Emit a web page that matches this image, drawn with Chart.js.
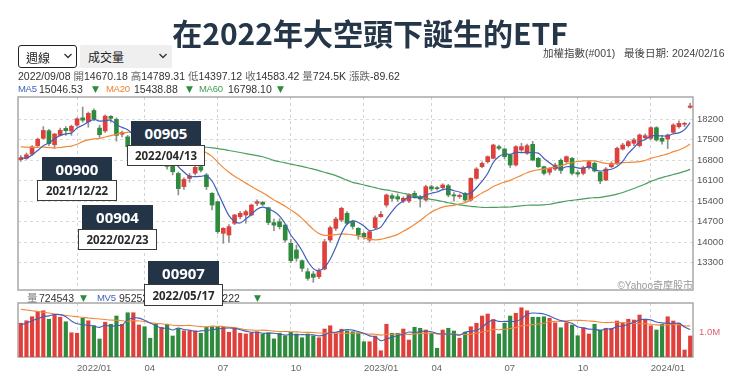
<!DOCTYPE html>
<html><head><meta charset="utf-8">
<script src="https://cdn.jsdelivr.net/npm/chart.js@4.4.1/dist/chart.umd.min.js"></script>
<style>
html,body{margin:0;padding:0;background:#fff;}
#wrap{position:relative;width:740px;height:389px;overflow:hidden;font-family:"Liberation Sans",Arial,"Noto Sans CJK TC",sans-serif;}
canvas{position:absolute;left:0;top:0;}
.abs{position:absolute;white-space:nowrap;}
#title{left:0;width:740px;top:17px;text-align:center;font:bold 30px/30px "Noto Sans CJK TC","Noto Sans",sans-serif;color:#253648;}
.sel{position:absolute;top:45px;height:23px;box-sizing:border-box;font:12px/23px "Noto Sans CJK TC",sans-serif;color:#222;}
.info{font-size:10.5px;line-height:12px;color:#333;}
.ma{font-size:9.5px;letter-spacing:-0.3px;}
.lbl{color:#666;}
.dn{color:#2e8b3e;font-size:9px;font-family:"DejaVu Sans",sans-serif;}
.tagd{position:absolute;background:#243447;color:#fff;font:bold 15px "Noto Sans",sans-serif;display:flex;align-items:center;justify-content:center;}
.tagw{position:absolute;background:#fff;border:1.5px solid #3a3a3a;box-sizing:border-box;color:#2a2a2a;font:bold 11.5px "Noto Sans",sans-serif;display:flex;align-items:center;justify-content:center;}
</style></head>
<body><div id="wrap">
<canvas id="main" width="740" height="389"></canvas>
<canvas id="vol" width="740" height="389"></canvas>

<div id="title" class="abs">在2022年大空頭下誕生的ETF</div>

<div class="sel" style="left:18px;width:59px;border:1.5px solid #222;border-radius:3px;padding-left:7px;">週線
<svg style="position:absolute;left:45px;top:7px" width="8" height="6"><polyline points="0.5,1 4,4.5 7.5,1" fill="none" stroke="#333" stroke-width="1.3"/></svg></div>
<div class="sel" style="left:80px;width:92px;background:#efefef;border-radius:2px;padding-left:8px;">成交量
<svg style="position:absolute;left:79px;top:8px" width="8" height="6"><polyline points="0.5,1 4,4.5 7.5,1" fill="none" stroke="#333" stroke-width="1.3"/></svg></div>

<div class="abs info" style="left:543px;top:47px;color:#444;">加權指數(#001)&nbsp;&nbsp;&nbsp;最後日期: 2024/02/16</div>

<div class="abs info" style="left:18px;top:70px;">2022/09/08 <span class="lbl">開</span>14670.18 <span class="lbl">高</span>14789.31 <span class="lbl">低</span>14397.12 <span class="lbl">收</span>14583.42 <span class="lbl">量</span>724.5K <span class="lbl">漲跌</span>-89.62</div>

<div class="abs info ma" style="left:18px;top:83px;color:#3f5fb8;">MA5</div>
<div class="abs info" style="left:39px;top:83px;">15046.53</div>
<div class="abs info dn" style="left:92px;top:83px;">▼</div>
<div class="abs info ma" style="left:106px;top:83px;color:#f08030;">MA20</div>
<div class="abs info" style="left:134px;top:83px;">15438.88</div>
<div class="abs info dn" style="left:186px;top:83px;">▼</div>
<div class="abs info ma" style="left:199px;top:83px;color:#3e9a52;">MA60</div>
<div class="abs info" style="left:228px;top:83px;">16798.10</div>
<div class="abs info dn" style="left:277px;top:83px;">▼</div>

<div class="abs info" style="right:47px;top:280px;color:#9a9a9a;font-size:10px;">©Yahoo奇摩股市</div>

<div class="abs info" style="left:27px;top:292px;color:#777;">量</div>
<div class="abs info" style="left:39px;top:292px;">724543</div>
<div class="abs info dn" style="left:80px;top:292px;">▼</div>
<div class="abs info ma" style="left:97px;top:292px;color:#3f5fb8;">MV5</div>
<div class="abs info" style="left:119px;top:292px;">952521</div>
<div class="abs info dn" style="left:158px;top:292px;">▼</div>
<div class="abs info ma" style="left:172px;top:292px;color:#f08030;">MV20</div>
<div class="abs info" style="left:199px;top:292px;">1078222</div>
<div class="abs info dn" style="left:254px;top:292px;">▼</div>

<div class="tagd" style="left:131px;top:121px;width:70px;height:24px;">00905</div>
<div class="tagw" style="left:127px;top:145px;width:78px;height:21px;">2022/04/13</div>
<div class="tagd" style="left:42px;top:157px;width:70px;height:23px;">00900</div>
<div class="tagw" style="left:37px;top:180px;width:80px;height:21px;">2021/12/22</div>
<div class="tagd" style="left:82px;top:205px;width:71px;height:24px;">00904</div>
<div class="tagw" style="left:78px;top:229px;width:79px;height:21px;">2022/02/23</div>
<div class="tagd" style="left:148px;top:261px;width:71px;height:24px;">00907</div>
<div class="tagw" style="left:144px;top:284px;width:79px;height:22px;">2022/05/17</div>
</div>
<script>
const weekDates = ['2021/10/22','2021/10/29','2021/11/05','2021/11/12','2021/11/19','2021/11/26','2021/12/03','2021/12/10','2021/12/17','2021/12/24','2021/12/30',
'2022/01/07','2022/01/14','2022/01/21','2022/01/26','2022/02/11','2022/02/18','2022/02/25','2022/03/04','2022/03/11','2022/03/18','2022/03/25','2022/04/01','2022/04/08','2022/04/15','2022/04/22','2022/04/29','2022/05/06','2022/05/13','2022/05/20','2022/05/27','2022/06/02','2022/06/10','2022/06/17','2022/06/24','2022/07/01','2022/07/08','2022/07/15','2022/07/22','2022/07/29','2022/08/05','2022/08/12','2022/08/19','2022/08/26','2022/09/02','2022/09/08','2022/09/16','2022/09/23','2022/09/30','2022/10/07','2022/10/14','2022/10/21','2022/10/28','2022/11/04','2022/11/11','2022/11/18','2022/11/25','2022/12/02','2022/12/09','2022/12/16','2022/12/23','2022/12/30',
'2023/01/06','2023/01/13','2023/01/17','2023/02/03','2023/02/10','2023/02/17','2023/02/24','2023/03/03','2023/03/10','2023/03/17','2023/03/24','2023/03/31','2023/04/07','2023/04/14','2023/04/21','2023/04/28','2023/05/05','2023/05/12','2023/05/19','2023/05/26','2023/06/02','2023/06/09','2023/06/16','2023/06/21','2023/06/30','2023/07/07','2023/07/14','2023/07/21','2023/07/28','2023/08/04','2023/08/11','2023/08/18','2023/08/25','2023/09/01','2023/09/08','2023/09/15','2023/09/22','2023/09/28','2023/10/06','2023/10/13','2023/10/20','2023/10/27','2023/11/03','2023/11/10','2023/11/17','2023/11/24','2023/12/01','2023/12/08','2023/12/15','2023/12/22','2023/12/29',
'2024/01/05','2024/01/12','2024/01/19','2024/01/26','2024/02/02','2024/02/05','2024/02/16'];

const openP = [16820,16870,17010,17300,17550,17810,17330,17650,17890,17800,18000,18250,18120,18500,17900,17800,18300,18200,17690,17600,
17200,17450,17780,17600,17350,16950,17000,16600,16350,15900,16180,16360,16581,16300,15670,15385,14303,14246,14645,14873,
14930,14930,15328,15362,15180,14670.18,14700,14588,13961,13734,13369,12993,12914,12822,13084,14075,14474,14759,14987,14700,
14474,14303,14075,14497,14873,15271,15590,15556,15408,15408,15670,15556,15442,15898,15850,15864,15932,15620,15560,15670,
15442,16182,16581,16752,16866,17265,17185,16980,16638,17151,17037,17344,16866,16581,16387,16501,16800,16752,16866,16380,
16353,16547,16695,16387,16125,16581,16695,17185,17299,17379,17299,17572,17549,17914,17550,17527,17755,17948,18028,18609];
const highP = [16960,17050,17300,17560,17950,17860,17720,17900,17950,18000,18250,18619,18450,18560,18000,18350,18330,18250,17800,17650,
17500,17700,17830,17650,17400,17200,17050,16700,16400,16200,16350,16650,16650,16350,15700,15400,14500,14600,14950,15050,
15100,15300,15450,15400,15200,14789.31,14800,14600,14100,13900,13400,13100,13000,13100,14100,14550,14850,15200,15050,14750,
14500,14350,14400,14900,15050,15650,15650,15650,15550,15650,15750,15600,15950,15950,15900,16000,15980,15700,15650,15700,
16200,16550,16750,16950,17350,17320,17200,17000,17300,17380,17350,17450,16900,16600,16550,16700,16850,16950,16900,16450,
16600,16800,16750,16400,16550,16750,17250,17380,17480,17550,17700,17700,17950,17950,17650,17700,18050,18150,18100,18750];
const lowP = [16760,16830,16960,17270,17520,17300,17210,17630,17650,17650,17960,18100,17930,18150,17580,17750,18100,17450,17600,16900,
16900,17400,17550,17200,16980,16850,16500,16300,15616,15800,16050,16300,16400,15800,15100,14300,13962,14000,14600,14800,
14650,14900,15250,15250,14600,14397.12,14450,14000,13300,13350,13000,12700,12629,12750,13050,14000,14400,14700,14600,14450,
14100,14100,14000,14450,14850,15200,15400,15400,15350,15350,15500,15200,15400,15750,15780,15800,15550,15400,15500,15400,
15400,16150,16550,16700,16850,17150,16850,16550,16600,17100,17000,16780,16550,16300,16300,16450,16350,16700,16300,16250,
16300,16500,16400,16000,16100,16550,16650,17150,17250,17300,17250,17500,17500,17450,17350,17200,17700,17900,17950,18575];
const closeP = [16888,16987,17260,17520,17820,17369,17697,17826,17810,17961,18218,18169,18403,18218,17674,18310,18232,17652,17750,17264,
17433,17526,17699,17284,17079,17025,16592,16408,15832,16144,16266,16560,16460,15900,15271,14360,14474,14531,14930,14987,
15044,15271,15385,15294,14673,14583.42,14531,14075,13369,13450,13107,12765,12800,13016,14018,14497,14793,15157,14645,14540,
14246,14189,14360,14838,14953,15613,15499,15476,15499,15613,15556,15476,15898,15820,15830,15955,15613,15580,15600,15442,
16182,16501,16695,16923,17322,17208,16923,16638,17265,17265,17299,16809,16581,16353,16524,16638,16450,16923,16353,16330,
16547,16752,16433,16091,16501,16695,17208,17322,17436,17493,17664,17641,17914,17493,17450,17664,18005,18062,18062,18654];

const ma5 = [16880,16874,16985,17133,17295,17391,17533,17646,17704,17733,17902,17997,18112,18194,18136,18155,18167,18017,17924,17842,
17666,17525,17534,17441,17404,17323,17136,16878,16587,16400,16248,16242,16252,16266,16091,15710,15293,14907,14713,14656,
14793,14953,15123,15196,15133,15047,14893,14631,14246,14002,13706,13353,13098,13028,13141,13419,13825,14296,14622,14726,
14676,14555,14396,14435,14517,14791,15053,15276,15408,15540,15529,15524,15608,15673,15716,15796,15823,15760,15716,15638,
15683,15861,16084,16349,16725,16930,17014,17003,17071,17060,17078,17055,17044,16861,16713,16581,16509,16578,16578,16539,
16521,16581,16483,16431,16465,16494,16586,16763,17032,17231,17425,17511,17630,17641,17632,17632,17705,17735,17849,18089];
const ma20 = [17259,17247,17242,17243,17248,17234,17224,17236,17264,17286,17348,17438,17497,17533,17543,17594,17643,17690,17739,17751,
17779,17806,17828,17816,17779,17762,17706,17635,17536,17446,17348,17268,17170,17055,16934,16737,16549,16393,16252,16138,
16019,15906,15790,15691,15570,15439,15345,15229,15105,14971,14813,14623,14440,14296,14233,14240,14256,14287,14273,14251,
14211,14157,14105,14083,14097,14148,14197,14267,14373,14481,14604,14739,14894,15034,15125,15198,15239,15260,15308,15353,
15450,15565,15682,15786,15905,15984,16056,16114,16202,16285,16372,16438,16473,16499,16534,16568,16610,16677,16715,16759,
16777,16790,16777,16735,16694,16669,16683,16717,16726,16737,16755,16797,16863,16920,16967,17018,17096,17153,17238,17354];
const ma60 = [null,null,null,null,null,null,null,null,null,null,null,null,null,null,null,null,null,null,null,null,
17250,17265,17280,17290,17295,17300,17300,17298,17292,17285,17278,17270,17260,17245,17225,17200,17170,17135,17100,17065,
17030,16995,16960,16920,16860,16798,16750,16710,16670,16630,16590,16545,16495,16445,16390,16335,16275,16200,16120,16047,
16003,15956,15908,15863,15815,15786,15749,15710,15672,15633,15588,15543,15502,15462,15431,15392,15348,15313,15278,15247,
15226,15209,15193,15186,15191,15194,15199,15203,15227,15246,15263,15267,15269,15276,15297,15335,15368,15408,15432,15454,
15479,15504,15521,15535,15565,15600,15645,15699,15767,15834,15910,15991,16077,16151,16209,16261,16315,16363,16420,16489];

const volK = [1350,1450,1610,1810,1850,1510,1710,1590,1410,970,950,1550,1450,1250,720,1390,1310,1640,1310,1770,
1770,1280,1210,750,1310,1190,1310,840,1120,1050,1050,1050,950,1190,1210,1210,1190,990,1120,950,
920,950,1010,910,970,725,950,850,990,920,770,920,850,770,1120,1250,970,1110,1040,1010,
970,610,610,840,250,1310,950,950,1120,680,1190,1150,1080,950,350,1080,1150,1040,750,990,
1210,1350,1640,1720,1500,920,1350,1640,1750,1970,1850,1590,1590,1610,1550,1370,1170,1370,1280,850,
1170,920,1310,1080,1150,1150,1440,1350,1510,1480,1680,1510,1250,1080,1310,1610,1440,1350,280,840];
const mv5 = [1300,1350,1450,1530,1614,1646,1698,1694,1614,1438,1326,1294,1266,1234,1184,1272,1224,1262,1274,1484,
1560,1554,1468,1356,1264,1148,1154,1080,1154,1102,1074,1022,1044,1058,1090,1122,1150,1158,1144,1092,
1034,986,990,948,952,952,913,881,897,887,896,890,890,846,886,982,992,1042,1096,1074,
1018,946,846,806,654,722,790,858,914,1000,976,1016,1042,1008,942,920,920,912,872,1000,
1026,1066,1186,1380,1482,1424,1424,1424,1430,1524,1710,1758,1748,1720,1636,1540,1456,1412,1346,1206,
1166,1116,1104,1064,1124,1120,1224,1232,1318,1384,1490,1504,1484,1398,1364,1350,1336,1356,1196,1102];
const mv20 = [1910,1880,1850,1820,1790,1760,1720,1690,1660,1640,1610,1590,1560,1540,1520,1500,1480,1470,1450,1430,
1451,1443,1423,1370,1343,1327,1307,1269,1255,1259,1264,1239,1214,1211,1235,1226,1220,1188,1178,1137,
1095,1078,1068,1076,1059,1036,1018,1018,1012,1005,991,985,980,959,954,956,945,951,947,950,
953,936,916,912,876,906,906,911,917,905,926,938,949,958,920,911,920,917,902,901,
913,950,1002,1046,1108,1089,1109,1143,1175,1239,1272,1294,1320,1353,1413,1427,1428,1445,1471,1464,
1462,1441,1424,1392,1375,1386,1391,1376,1364,1340,1331,1327,1310,1284,1272,1284,1297,1296,1246,1246];

const quarterIdx = [10,22,35,48,61,73,86,99,112];
const quarterLabels = ['2022/01','04','07','10','2023/01','04','07','10','2024/01'];
const priceTicks = [13300,14000,14700,15400,16100,16800,17500,18200];
const volTicks = [1000];
const volTickLabels = ['1.0M'];

const RED = '#e0403c', GREEN = '#2e8b3e', BLUE = '#3f5fb8', ORANGE = '#f08a3a', MGREEN = '#4a9e5c';
const candleColors = openP.map((o, i) => closeP[i] >= o ? RED : GREEN);

const frame = { id: 'frame', beforeDatasetsDraw(chart) {
  const { ctx, chartArea: a } = chart;
  ctx.save(); ctx.strokeStyle = '#a8a8a8'; ctx.lineWidth = 1.5;
  ctx.strokeRect(a.left, a.top, a.right - a.left, a.bottom - a.top); ctx.restore();
} };

const gridColor = (c) => quarterIdx.includes(c.index) ? '#d2d2d2' : 'rgba(0,0,0,0)';
const tickFont = { family: '"Liberation Sans", Arial, sans-serif', size: 9.5 };

new Chart(document.getElementById('main'), {
  type: 'bar',
  data: {
    labels: weekDates,
    datasets: [
      { type: 'line', data: ma5, borderColor: BLUE, borderWidth: 1.2, pointRadius: 0, tension: 0.35, order: 0 },
      { type: 'line', data: ma20, borderColor: ORANGE, borderWidth: 1.2, pointRadius: 0, tension: 0.35, order: 0 },
      { type: 'line', data: ma60, borderColor: MGREEN, borderWidth: 1.2, pointRadius: 0, tension: 0.35, order: 0 },
      { data: openP.map((o, i) => [o, closeP[i]]), backgroundColor: candleColors, borderColor: candleColors,
        barThickness: 4, minBarLength: 1, grouped: false, order: 1 },
      { data: lowP.map((l, i) => [l, highP[i]]), backgroundColor: '#909090', barThickness: 1, grouped: false, order: 2 }
    ]
  },
  options: {
    responsive: false, animation: false, devicePixelRatio: 1,
    layout: { padding: { top: 97, left: 18, right: 0, bottom: 99 } },
    plugins: { legend: { display: false }, tooltip: { enabled: false } },
    scales: {
      x: { type: 'category', offset: true,
        grid: { offset: false, drawTicks: false, color: gridColor, lineWidth: 1 },
        border: { display: false, dash: [3, 3] },
        ticks: { display: false },
        afterFit: (s) => { s.height = 0; } },
      y: { position: 'right', min: 12367, max: 18962,
        afterBuildTicks: (s) => { s.ticks = priceTicks.map(v => ({ value: v })); },
        grid: { drawTicks: false, color: '#dadada' },
        border: { display: false, dash: [3, 3] },
        ticks: { padding: 4, font: tickFont, color: '#555', callback: (v) => String(v) },
        afterFit: (s) => { s.width = 47; } }
    }
  },
  plugins: [frame]
});

new Chart(document.getElementById('vol'), {
  type: 'bar',
  data: {
    labels: weekDates,
    datasets: [
      { type: 'line', data: mv5, borderColor: BLUE, borderWidth: 1.1, pointRadius: 0, tension: 0.35, order: 0 },
      { type: 'line', data: mv20, borderColor: ORANGE, borderWidth: 1.1, pointRadius: 0, tension: 0.35, order: 0 },
      { data: volK, backgroundColor: candleColors, barThickness: 3.5, order: 1 }
    ]
  },
  options: {
    responsive: false, animation: false, devicePixelRatio: 1,
    layout: { padding: { top: 303, left: 18, right: 0, bottom: 0 } },
    plugins: { legend: { display: false }, tooltip: { enabled: false } },
    scales: {
      x: { type: 'category', offset: true,
        grid: { offset: false, drawTicks: false, color: gridColor, lineWidth: 1 },
        border: { display: false, dash: [3, 3] },
        ticks: { autoSkip: false, maxRotation: 0, minRotation: 0, align: 'start', padding: 6, font: tickFont, color: '#666',
          callback: (v, i) => { const k = quarterIdx.indexOf(i); return k >= 0 ? quarterLabels[k] : ''; } },
        afterFit: (s) => { s.height = 32; } },
      y: { position: 'right', min: 0, max: 2160,
        afterBuildTicks: (s) => { s.ticks = volTicks.map(v => ({ value: v })); },
        grid: { drawTicks: false, color: 'rgba(0,0,0,0)' },
        border: { display: false },
        ticks: { padding: 6, font: tickFont, color: '#e06070', callback: (v, i) => volTickLabels[i] },
        afterFit: (s) => { s.width = 47; } }
    }
  },
  plugins: [frame]
});
</script>
</body></html>
